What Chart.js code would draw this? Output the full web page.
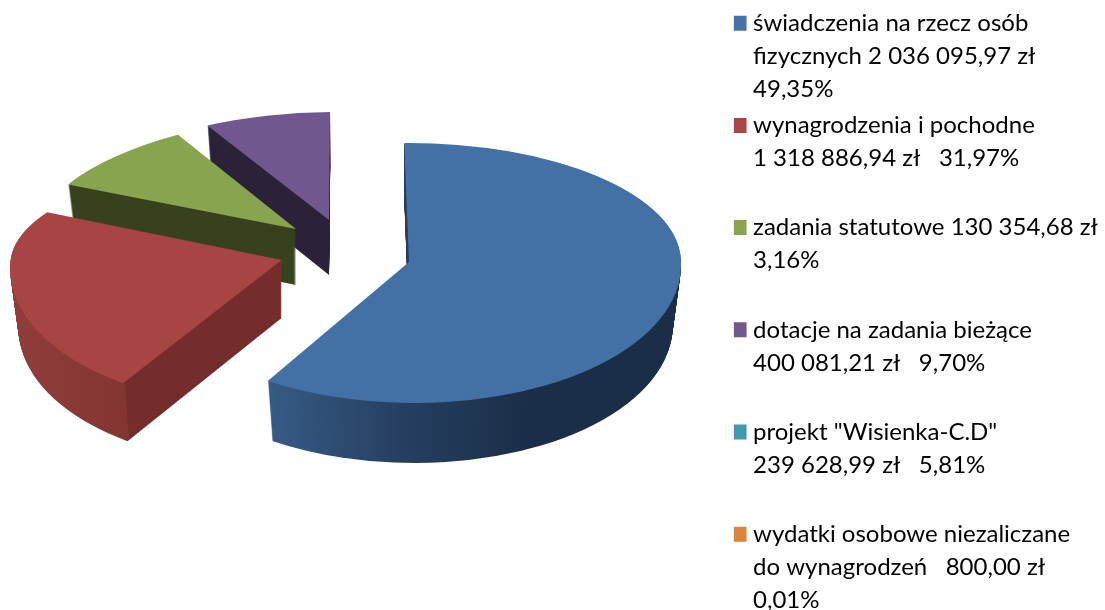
<!DOCTYPE html>
<html><head><meta charset="utf-8">
<style>html,body{margin:0;padding:0;background:#fff;overflow:hidden;width:1105px;height:610px}canvas{display:block}</style>
<script src="https://cdn.jsdelivr.net/npm/chart.js@4"></script>
</head><body><canvas id="c" width="1105" height="640"></canvas>
<script>
const categories = [
 ['świadczenia na rzecz osób','fizycznych 2 036 095,97 zł','49,35%'],
 ['wynagrodzenia i pochodne','1 318 886,94 zł   31,97%',''],
 ['zadania statutowe 130 354,68 zł','3,16%',''],
 ['dotacje na zadania bieżące','400 081,21 zł   9,70%',''],
 ['projekt "Wisienka-C.D"','239 628,99 zł   5,81%',''],
 ['wydatki osobowe niezaliczane','do wynagrodzeń   800,00 zł','0,01%']
];
// slice shares as drawn in the picture (percent of the circle)
const sliceShares = [59.3, 23.75, 9.2, 7.75, 0, 0];
const topColors = ['#4371A6','#A64543','#88A44E','#71578F','#3C97AE','#E0862F'];
const legendColors = ['#4672A8','#AA4643','#89A54E','#71588F','#4198AF','#DB843D'];

// pseudo 3D styling
const pieCenter = {x:345, y:251};
const explode = [66.5,65.6,68.7,62,0,0];
const nudgeY = [2,0,-1,-6,0,0];
const radiusX = [272,271,264,262,1,1];
const radiusUp = [119,102,113,108,1,1];
const radiusDown = [141,146,120,120,1,1];
const shearUp = [0,-0.105,-0.096,-0.052,0,0];
const shearDown = [0.04,-0.105,0,0,0,0];
const tiltY = [0,0,-0.036,0,0,0];
const sideDepth = [60,58,56,55,0,0];
const sideStops = [
 [[266,'#365B85'],[400,'#263F61'],[530,'#1A2E47'],[690,'#1A2E47']],
 [[10,'#903C3A'],[124,'#833532'],[125,'#752D2B'],[290,'#752D2B']],
 [[60,'#37421C'],[300,'#37421C']],
 [[200,'#2B2138'],[335,'#2B2138']]
];
const cornerDrop = [118,123,0,0];
const W = 1105, H = 640;

function geom(arc,i){
  const mid=(arc.startAngle+arc.endAngle)/2, dir=Math.sin(mid)>0?radiusDown[i]:radiusUp[i];
  return {ax:pieCenter.x+Math.cos(mid)*explode[i], ay:Math.round(pieCenter.y+Math.sin(mid)*explode[i]*dir/radiusX[i]+nudgeY[i])};
}
function paint(ctx,arc,i,depth,fill){
  const g=geom(arc,i), shrink=1-0.03*(depth/(sideDepth[i]||1));
  const sx=radiusX[i]/arc.outerRadius*shrink;
  const Y=g.ay+depth;
  const saved=arc.options;
  arc.options=Object.assign({},saved,{backgroundColor:fill,borderWidth:0});
  [[radiusUp[i],shearUp[i],0,Y+1],[radiusDown[i],shearDown[i],Y,H-Y]].forEach(([ry,sh,cy,ch])=>{
    const sy=ry/arc.outerRadius;
    ctx.save();
    ctx.beginPath();ctx.rect(0,cy,W,ch);ctx.clip();
    ctx.translate(g.ax,Y);
    ctx.transform(sx,tiltY[i]*sx,sh*sy,sy,0,0);
    ctx.translate(-arc.x,-arc.y);
    arc.draw(ctx);
    ctx.restore();
  });
  arc.options=saved;
}
const pseudo3d={id:'pseudo3d',beforeDatasetDraw(chart,args){
  const ctx=chart.ctx, arcs=args.meta.data;
  for(const i of [3,2,1,0]){
    const arc=arcs[i], g=geom(arc,i), sx=radiusX[i]/arc.outerRadius;
    const lx=X=>arc.x+(X-g.ax-shearDown[i]*cornerDrop[i])/sx;
    const st=sideStops[i], x0=st[0][0], x1=st[st.length-1][0];
    const grad=ctx.createLinearGradient(lx(x0),0,lx(x1),0);
    st.forEach(([X,c])=>grad.addColorStop((X-x0)/(x1-x0),c));
    for(let d=sideDepth[i];d>=1;d--) paint(ctx,arc,i,d,grad);
  }
  for(const i of [3,2,1,0]) paint(ctx,arcs[i],i,0,topColors[i]);
  return false;
}};
new Chart(document.getElementById('c'),{
  type:'pie',
  data:{labels:categories,datasets:[{data:sliceShares,backgroundColor:topColors,borderWidth:0,rotation:-1}]},
  plugins:[pseudo3d],
  options:{
    responsive:false,animation:false,
    layout:{padding:{top:8,right:-3,left:0,bottom:0}},
    plugins:{tooltip:{enabled:false},legend:{
      position:'right',align:'start',
      labels:{
        font:{family:'Lato',size:24,lineHeight:'33px'},color:'#000',
        boxWidth:4,boxHeight:4,padding:3.2,
        generateLabels:()=>categories.map((t,i)=>({text:t,fillStyle:legendColors[i],strokeStyle:legendColors[i],lineWidth:11,hidden:false,index:i,fontColor:'#000'}))
      }
    }}
  }
});
</script></body></html>
